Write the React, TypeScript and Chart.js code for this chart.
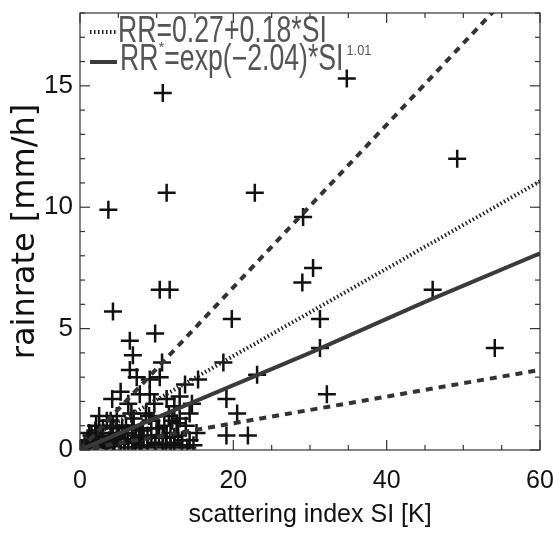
import { useEffect, useRef } from "react";
import { Chart, registerables } from "chart.js";

Chart.register(...registerables);

// scatter observations: scattering index SI [K] and rain rate [mm/h]
const SI_VALUES = [
  10.8, 34.8, 49.2, 11.3, 22.8, 3.7, 29.1, 10.4, 11.7, 30.4, 29.0, 4.3, 19.8, 46.0, 31.3, 9.8,
  31.3, 54.1, 6.5, 6.9, 6.5, 7.4, 10.7, 10.4, 18.7, 23.1, 13.7, 15.4, 9.1, 32.2, 19.1, 20.5,
  19.1, 21.9, 4.2, 6.3, 11.3, 14.6, 9.1, 2.5, 9.7, 8.6, 6.7, 11.6, 14.3, 12.6, 15.2, 2.1,
  1.2, 4.3, 5.1, 7.7, 8.2, 10.3,
  0.6, 1.0, 1.5, 2.0, 2.5, 3.0, 3.0, 3.5, 3.5, 4.0, 4.5, 4.8, 5.5, 5.8, 6.2, 6.8,
  7.2, 8.0, 8.8, 9.3, 9.8, 10.8, 11.2, 11.8, 12.3, 12.8, 13.3, 13.8, 14.3, 14.8, 5.3, 7.8,
  12.3, 13.0,
  0.3, 0.8, 1.3, 1.8, 2.3, 2.8, 3.3, 3.8, 4.3, 4.8, 5.3, 5.8, 6.3, 6.8, 7.3, 7.8,
  8.3, 8.8, 9.3, 9.8, 10.3, 10.8, 11.3, 11.8, 12.3, 13.3, 14.0, 2.0, 4.0, 6.0, 8.0, 10.0,
  12.0, 5.0, 7.0, 9.0, 11.0, 13.0,
];
const RR_VALUES = [
  14.7, 15.3, 12.0, 10.6, 10.6, 9.9, 9.6, 6.6, 6.6, 7.5, 6.9, 5.7, 5.4, 6.6, 5.4, 4.8,
  4.2, 4.2, 4.5, 3.9, 3.3, 3.0, 3.6, 3.0, 3.6, 3.1, 2.7, 2.9, 2.9, 2.3, 2.1, 1.5,
  0.6, 0.6, 2.1, 1.9, 2.1, 1.9, 2.3, 1.4, 1.9, 1.5, 1.5, 1.4, 1.5, 1.1, 0.7, 1.0,
  0.7, 1.0, 0.5, 0.5, 0.9, 0.9,
  0.2, 0.4, 0.6, 0.3, 0.7, 0.4, 0.9, 0.2, 1.2, 0.6, 0.3, 1.4, 0.9, 0.3, 0.7, 1.0,
  0.3, 0.2, 0.6, 1.2, 0.3, 0.5, 0.2, 0.7, 0.3, 0.6, 0.2, 1.0, 0.4, 0.2, 2.4, 2.3,
  1.8, 2.2,
  0.05, 0.1, 0.35, 0.15, 0.25, 0.55, 0.1, 0.4, 0.15, 0.65, 0.25, 0.45, 0.1, 0.35, 0.6, 0.1,
  0.45, 0.2, 0.5, 0.1, 0.6, 0.25, 0.5, 0.1, 0.55, 0.4, 0.1, 0.8, 1.2, 1.0, 0.8, 0.9,
  1.2, 0.7, 1.3, 1.4, 1.0, 1.3,
];

// fitted lines
const FIT_SI = [0, 60];
const LINEAR_FIT = [0.27, 11.07];
const POWER_SI = [0, 15, 30, 45, 60];
const POWER_FIT = [0, 2.0, 4.0, 6.1, 8.1];
const UPPER_BOUND = [0, 20.1];
const LOWER_BOUND = [0, 3.3];

// axes
const X_TICKS = [0, 20, 40, 60];
const Y_TICKS = [0, 5, 10, 15];
const X_MINOR_STEP = 5;
const Y_MINOR_STEP = 1;
const X_TITLE = "scattering index SI [K]";
const Y_TITLE = "rainrate [mm/h]";

// legend text
const LEGEND_LINEAR = "RR=0.27+0.18*SI";
const LEGEND_POWER_A = "RR";
const LEGEND_POWER_STAR = "*";
const LEGEND_POWER_B = "=exp(\u22122.04)*SI";
const LEGEND_POWER_EXP = "1.01";

const DOTTED = { color: "#222", width: 4, dash: [1.5, 2.5] };
const SOLID = { color: "#3a3a3a", width: 4, dash: [] as number[] };
const DASHED = { color: "#333", width: 4, dash: [7, 6] };

const pairs = (xs: number[], ys: number[]) => xs.map((x, i) => ({ x, y: ys[i] }));

const zeroPad = (s: any) => {
  s.paddingLeft = 0;
  s.paddingRight = 0;
  s.paddingTop = 0;
  s.paddingBottom = 0;
};

const framePlugin = {
  id: "frame",
  beforeDraw(chart: any) {
    const { ctx, width, height } = chart;
    ctx.save();
    ctx.fillStyle = "#ffffff";
    ctx.fillRect(0, 0, width, height);
    ctx.restore();
  },
  afterDraw(chart: any) {
    const { ctx, chartArea: a, scales } = chart;
    const xs = scales.x;
    const ys = scales.y;
    ctx.save();
    ctx.strokeStyle = "#333";
    ctx.lineWidth = 1.2;
    ctx.strokeRect(a.left, a.top, a.right - a.left, a.bottom - a.top);
    const seg = (x1: number, y1: number, x2: number, y2: number) => {
      ctx.beginPath();
      ctx.moveTo(x1, y1);
      ctx.lineTo(x2, y2);
      ctx.stroke();
    };
    for (let v = xs.min; v <= xs.max + 1e-9; v += X_MINOR_STEP) {
      const px = xs.getPixelForValue(v);
      const len = X_TICKS.includes(v) ? 10 : 5;
      seg(px, a.bottom, px, a.bottom - len);
      seg(px, a.top, px, a.top + len);
    }
    for (let v = Math.ceil(ys.min); v <= ys.max + 1e-9; v += Y_MINOR_STEP) {
      const py = ys.getPixelForValue(v);
      const len = Y_TICKS.includes(v) ? 10 : 5;
      seg(a.left, py, a.left + len, py);
      seg(a.right, py, a.right - len, py);
    }

    // legend
    const sx0 = a.left + 10;
    const sx1 = a.left + 37;
    const drawSample = (st: any, y: number) => {
      ctx.save();
      ctx.strokeStyle = st.color;
      ctx.lineWidth = st.width;
      ctx.setLineDash(st.dash);
      seg(sx0, y, sx1, y);
      ctx.restore();
    };
    drawSample(DOTTED, a.top + 19);
    drawSample(SOLID, a.top + 49);

    const scaleX = 0.74;
    const big = '36px "Liberation Sans", Arial, sans-serif';
    const small = '15px "Liberation Sans", Arial, sans-serif';
    ctx.fillStyle = "#555";
    ctx.textBaseline = "alphabetic";
    ctx.textAlign = "left";
    const put = (text: string, x: number, y: number, font: string, sxf: number) => {
      ctx.save();
      ctx.font = font;
      ctx.translate(x, y);
      ctx.scale(sxf, 1);
      ctx.fillText(text, 0, 0);
      const w = ctx.measureText(text).width * sxf;
      ctx.restore();
      return w;
    };
    put(LEGEND_LINEAR, a.left + 38, a.top + 29, big, scaleX);
    let x = a.left + 40;
    const by = a.top + 57;
    x += put(LEGEND_POWER_A, x, by, big, scaleX);
    x += put(LEGEND_POWER_STAR, x, by - 18, small, 1);
    x += put(LEGEND_POWER_B, x, by, big, scaleX);
    put(LEGEND_POWER_EXP, x + 3, by - 15, small, 0.85);
    ctx.restore();
  },
};

export default function App() {
  const ref = useRef<HTMLCanvasElement | null>(null);
  useEffect(() => {
    if (!ref.current) return;
    const chart = new Chart(ref.current, {
      type: "scatter",
      data: {
        datasets: [
          {
            type: "line",
            data: pairs(FIT_SI, UPPER_BOUND),
            borderColor: DASHED.color,
            borderWidth: DASHED.width,
            borderDash: DASHED.dash,
            pointRadius: 0,
            fill: false,
            clip: 0,
          } as any,
          {
            type: "line",
            data: pairs(FIT_SI, LOWER_BOUND),
            borderColor: DASHED.color,
            borderWidth: DASHED.width,
            borderDash: DASHED.dash,
            pointRadius: 0,
            fill: false,
            clip: 0,
          } as any,
          {
            type: "line",
            data: pairs(FIT_SI, LINEAR_FIT),
            borderColor: DOTTED.color,
            borderWidth: DOTTED.width,
            borderDash: DOTTED.dash,
            pointRadius: 0,
            fill: false,
            clip: 0,
          } as any,
          {
            type: "line",
            data: pairs(POWER_SI, POWER_FIT),
            borderColor: SOLID.color,
            borderWidth: SOLID.width,
            pointRadius: 0,
            fill: false,
            clip: 0,
          } as any,
          {
            type: "scatter",
            data: pairs(SI_VALUES, RR_VALUES),
            pointStyle: "cross",
            pointRadius: 9,
            borderColor: "#111",
            borderWidth: 2.5,
            backgroundColor: "#111",
            clip: 0,
          } as any,
        ],
      },
      options: {
        responsive: false,
        animation: false,
        events: [],
        layout: { padding: { top: 13, right: 13, left: 0, bottom: 0 } },
        plugins: { legend: { display: false }, tooltip: { enabled: false } },
        scales: {
          x: {
            type: "linear",
            min: 0,
            max: 60,
            grid: { display: false, drawTicks: false },
            border: { display: false },
            afterBuildTicks: (s: any) => {
              s.ticks = X_TICKS.map((value) => ({ value }));
            },
            afterFit: (s: any) => {
              s.height = 83;
              zeroPad(s);
            },
            ticks: {
              color: "#111",
              font: { family: '"Liberation Sans", Arial, sans-serif', size: 25 },
              padding: 16,
              maxRotation: 0,
              autoSkip: false,
            },
            title: {
              display: true,
              text: X_TITLE,
              color: "#111",
              font: { family: '"Liberation Sans", Arial, sans-serif', size: 25 },
              padding: { top: 0, bottom: 3 },
            },
          },
          y: {
            type: "linear",
            min: 0,
            max: 18,
            grid: { display: false, drawTicks: false },
            border: { display: false },
            afterBuildTicks: (s: any) => {
              s.ticks = Y_TICKS.map((value) => ({ value }));
            },
            afterFit: (s: any) => {
              s.width = 80;
              zeroPad(s);
            },
            ticks: {
              color: "#111",
              font: { family: '"Liberation Sans", Arial, sans-serif', size: 26 },
              padding: 7,
              autoSkip: false,
            },
            title: {
              display: true,
              text: Y_TITLE,
              color: "#111",
              font: { family: '"DejaVu Sans", sans-serif', size: 32 },
              padding: { top: 6, bottom: 0 },
            },
          },
        },
      },
      plugins: [framePlugin],
    });
    return () => chart.destroy();
  }, []);
  return (
    <div style={{ position: "absolute", left: 0, top: 0, width: 553, height: 533 }}>
      <canvas ref={ref} width={553} height={533} />
    </div>
  );
}
